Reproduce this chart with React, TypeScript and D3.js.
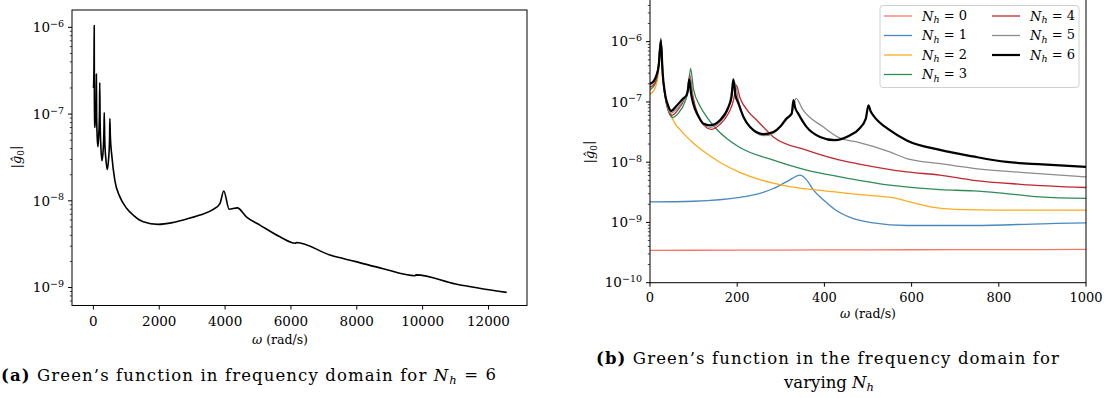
import * as d3 from "d3"

type Pt = [number, number]

// (a) N_h = 6 over the whole range
const fullNh6: Pt[] = [
  [0, 2.0e-7], [8, 2.2e-7], [18, 4e-7], [25, 1.05e-6], [30, 1.5e-7], [38, 8e-8], [45, 7e-8],
  [60, 9e-8], [80, 1.4e-7], [90, 2.9e-7], [100, 9e-8], [120, 5e-8], [140, 4.2e-8], [165, 6e-8],
  [185, 1.1e-7], [193, 2.3e-7], [205, 8e-8], [230, 4e-8], [260, 2.9e-8], [300, 4e-8], [322, 7e-8],
  [330, 1.04e-7], [345, 5e-8], [380, 3e-8], [420, 2.3e-8], [460, 3e-8], [490, 5e-8], [500, 8.9e-8],
  [515, 5.5e-8], [560, 3.3e-8], [650, 1.73e-8], [805, 1.11e-8], [1008, 8.2e-9], [1209, 6.84e-9],
  [1513, 5.73e-9], [1968, 5.35e-9], [2400, 5.6e-9], [2728, 6.0e-9], [3235, 6.84e-9], [3640, 7.96e-9],
  [3843, 9.3e-9], [3960, 1.3e-8], [4125, 8.0e-9], [4370, 8.3e-9], [4654, 6.5e-9], [5058, 5.25e-9],
  [5665, 3.85e-9], [6130, 3.24e-9], [6165, 3.31e-9], [7184, 2.37e-9], [7974, 1.99e-9], [8800, 1.65e-9],
  [9770, 1.37e-9], [9800, 1.4e-9], [11000, 1.1e-9], [12552, 8.8e-10],
]

// (b) varying N_h, 0..1000 rad/s
const nh0: Pt[] = [[0, 3.45e-10], [200, 3.47e-10], [400, 3.5e-10], [600, 3.52e-10], [800, 3.54e-10], [1000, 3.56e-10]]
const nh1: Pt[] = [
  [0, 2.19e-9], [100, 2.25e-9], [206, 2.6e-9], [250, 3.0e-9], [283, 3.66e-9], [315, 4.8e-9], [344, 6.08e-9],
  [360, 5.0e-9], [375, 3.43e-9], [400, 2.3e-9], [424, 1.64e-9], [459, 1.21e-9], [512, 9.85e-10],
  [589, 8.9e-10], [742, 8.9e-10], [900, 9.5e-10], [1000, 9.85e-10],
]
const nh2: Pt[] = [
  [0, 1.35e-7], [10, 1.6e-7], [18, 2.6e-7], [23, 6e-7], [25, 9e-7], [28, 3e-7], [35, 1.3e-7], [45, 7.5e-8],
  [53, 5e-8], [70, 3.4e-8], [92, 2.32e-8], [130, 1.39e-8], [160, 1e-8], [206, 6.8e-9], [250, 5.2e-9],
  [300, 4.2e-9], [344, 3.7e-9], [400, 3.35e-9], [459, 3.0e-9], [520, 2.75e-9], [560, 2.55e-9],
  [600, 2.15e-9], [650, 1.78e-9], [700, 1.65e-9], [800, 1.6e-9], [1000, 1.6e-9],
]
const nh3: Pt[] = [
  [0, 1.6e-7], [10, 1.9e-7], [18, 3e-7], [25, 1.15e-6], [30, 2.5e-7], [40, 8e-8], [52, 5.5e-8], [65, 6.5e-8],
  [80, 1e-7], [88, 1.6e-7], [93, 3.6e-7], [100, 1.6e-7], [115, 8.5e-8], [130, 5.65e-8], [150, 3.7e-8],
  [176, 2.47e-8], [206, 1.75e-8], [283, 1.08e-8], [359, 7.4e-9], [436, 5.7e-9], [550, 4.15e-9],
  [665, 3.5e-9], [742, 3.34e-9], [800, 3.1e-9], [894, 2.65e-9], [1000, 2.5e-9],
]
const nh4: Pt[] = [
  [0, 1.75e-7], [10, 2e-7], [18, 3.2e-7], [25, 1.1e-6], [30, 2.5e-7], [40, 8e-8], [50, 6e-8], [65, 7.5e-8],
  [80, 1.15e-7], [86, 1.5e-7], [91, 2.8e-7], [98, 1.3e-7], [110, 6e-8], [125, 4e-8], [140, 3.5e-8],
  [160, 4.2e-8], [180, 6.5e-8], [192, 1.1e-7], [198, 1.9e-7], [206, 1.2e-7], [225, 7e-8], [245, 4.98e-8],
  [283, 2.63e-8], [359, 1.58e-8], [436, 1.08e-8], [474, 9.5e-9], [589, 6.9e-9], [665, 6.1e-9],
  [742, 5e-9], [850, 4.3e-9], [1000, 3.8e-9],
]
const nh5: Pt[] = [
  [0, 1.9e-7], [10, 2.2e-7], [18, 3.5e-7], [25, 1.0e-6], [30, 2.4e-7], [40, 8.5e-8], [48, 6.5e-8], [60, 7.5e-8],
  [76, 1.05e-7], [85, 1.3e-7], [91, 2.6e-7], [99, 1e-7], [120, 4.5e-8], [138, 3.8e-8], [160, 4.6e-8],
  [180, 8e-8], [193, 2.2e-7], [205, 9e-8], [230, 3.8e-8], [262, 2.75e-8], [285, 3.1e-8], [315, 5.3e-8],
  [327, 7e-8], [335, 1.15e-7], [350, 7.5e-8], [397, 3.86e-8], [436, 2.5e-8], [474, 2.17e-8], [550, 1.48e-8],
  [589, 1.15e-8], [665, 9.5e-9], [742, 7.9e-9], [850, 6.8e-9], [1000, 5.7e-9],
]
const nh6: Pt[] = [
  [0, 2.02e-7], [8, 2.2e-7], [15, 2.8e-7], [20, 4e-7], [25, 1.03e-6], [29, 3e-7], [35, 1.3e-7], [42, 8.5e-8],
  [48, 7.1e-8], [60, 8.5e-8], [76, 1.14e-7], [84, 1.3e-7], [87, 1.6e-7], [90, 2.36e-7], [94, 1.4e-7],
  [99, 9.4e-8], [110, 6e-8], [122, 4.4e-8], [138, 4.1e-8], [161, 5e-8], [180, 8.3e-8], [187, 1.2e-7],
  [191, 2.36e-7], [196, 1.3e-7], [203, 9.4e-8], [215, 5.5e-8], [229, 3.86e-8], [260, 2.92e-8],
  [283, 3.18e-8], [300, 4e-8], [313, 5.3e-8], [325, 6.4e-8], [329, 1.07e-7], [333, 8e-8], [340, 6.4e-8],
  [359, 3.86e-8], [390, 2.63e-8], [424, 2.32e-8], [459, 2.8e-8], [480, 3.6e-8], [495, 5.3e-8],
  [501, 8.8e-8], [506, 7e-8], [512, 6e-8], [550, 3.4e-8], [589, 2.3e-8], [665, 1.6e-8], [740, 1.25e-8],
  [818, 1.01e-8], [900, 9.2e-9], [1000, 8.35e-9],
]

const seriesB = [
  { n: 0, data: nh0, color: "#f7766a", width: 1.3 },
  { n: 1, data: nh1, color: "#4a88bf", width: 1.3 },
  { n: 2, data: nh2, color: "#fdab1e", width: 1.3 },
  { n: 3, data: nh3, color: "#2e8b57", width: 1.3 },
  { n: 4, data: nh4, color: "#c1272d", width: 1.3 },
  { n: 5, data: nh5, color: "#8c8c8c", width: 1.3 },
  { n: 6, data: nh6, color: "#000000", width: 2.2 },
]

const xTicksA = [0, 2000, 4000, 6000, 8000, 10000, 12000]
const xTicksB = [0, 200, 400, 600, 800, 1000]
const decadesA = [-9, -8, -7, -6]
const decadesB = [-10, -9, -8, -7, -6]

const FONT = "'DejaVu Serif', 'Liberation Serif', serif"

function minorTicks(domain: number[]) {
  const out: number[] = []
  for (let e = -11; e <= -5; e++)
    for (let m = 2; m <= 9; m++) {
      const v = m * 10 ** e
      if (v > domain[0] && v < domain[1]) out.push(v)
    }
  return out
}

function Pow({ x, y, e }: { x: number; y: number; e: number }) {
  return (
    <text x={x} y={y} dy="0.35em" textAnchor="end" fontSize={13.5} fontFamily={FONT}>
      10<tspan dy="-0.55em" fontSize={9.5}>{"\u2212" + Math.abs(e)}</tspan>
    </text>
  )
}

function YLabel({ x, y }: { x: number; y: number }) {
  return (
    <text transform={`translate(${x},${y}) rotate(-90)`} textAnchor="middle" fontSize={13} fontFamily={FONT}>
      |<tspan fontStyle="italic">{"g\u0302"}</tspan>
      <tspan fontSize={9} dy="0.3em">0</tspan>
      <tspan dy="-0.3em">|</tspan>
    </text>
  )
}

function XLabel({ x, y }: { x: number; y: number }) {
  return (
    <text x={x} y={y} textAnchor="middle" fontSize={12.5} fontFamily={FONT}>
      <tspan fontStyle="italic">ω</tspan> (rad/s)
    </text>
  )
}

function PanelA() {
  const x = d3.scaleLinear().domain([-650, 13170]).range([72, 527])
  const y = d3.scaleLog().domain([10 ** -9.207, 10 ** -5.8]).range([305.5, 10])
  const line = d3.line<Pt>().x(d => x(d[0])).y(d => y(d[1])).curve(d3.curveMonotoneX)
  const [x0, x1] = x.range()
  const [y0, y1] = y.range()
  return (
    <g>
      <path d={line(fullNh6) ?? ""} fill="none" stroke="#000" strokeWidth={1.6} strokeLinejoin="round" />
      <rect x={x0} y={y1} width={x1 - x0} height={y0 - y1} fill="none" stroke="#000" strokeWidth={1} />
      {xTicksA.map(t => (
        <g key={t}>
          <line x1={x(t)} x2={x(t)} y1={y0} y2={y0 + 4} stroke="#000" />
          <text x={x(t)} y={y0 + 20.5} textAnchor="middle" fontSize={13.5} fontFamily={FONT}>{t}</text>
        </g>
      ))}
      {decadesA.map(e => (
        <g key={e}>
          <line x1={x0 - 4} x2={x0} y1={y(10 ** e)} y2={y(10 ** e)} stroke="#000" />
          <Pow x={x0 - 8} y={y(10 ** e)} e={e} />
        </g>
      ))}
      {minorTicks(y.domain()).map(v => (
        <line key={v} x1={x0 - 2.2} x2={x0} y1={y(v)} y2={y(v)} stroke="#000" strokeWidth={0.7} />
      ))}
      <XLabel x={280} y={344} />
      <YLabel x={21} y={157} />
    </g>
  )
}

function PanelB() {
  const x = d3.scaleLinear().domain([0, 1000]).range([650, 1086])
  const y = d3.scaleLog().domain([1e-10, 10 ** -5.275]).range([282.7, -2])
  const line = d3.line<Pt>().x(d => x(d[0])).y(d => y(d[1])).curve(d3.curveMonotoneX)
  const [x0, x1] = x.range()
  const [y0, y1] = y.range()
  const lx = [884, 992]
  const ly = [16, 35.5, 55, 74.5]
  return (
    <g>
      <defs>
        <clipPath id="clipB">
          <rect x={x0} y={y1} width={x1 - x0} height={y0 - y1} />
        </clipPath>
      </defs>
      <g clipPath="url(#clipB)">
        {seriesB.map(s => (
          <path key={s.n} d={line(s.data) ?? ""} fill="none" stroke={s.color} strokeWidth={s.width} strokeLinejoin="round" />
        ))}
      </g>
      <rect x={x0} y={y1} width={x1 - x0} height={y0 - y1} fill="none" stroke="#000" strokeWidth={1} />
      {xTicksB.map(t => (
        <g key={t}>
          <line x1={x(t)} x2={x(t)} y1={y0} y2={y0 + 4} stroke="#000" />
          <text x={x(t)} y={y0 + 19.5} textAnchor="middle" fontSize={13} fontFamily={FONT}>{t}</text>
        </g>
      ))}
      {decadesB.map(e => (
        <g key={e}>
          <line x1={x0 - 4} x2={x0} y1={y(10 ** e)} y2={y(10 ** e)} stroke="#000" />
          <Pow x={x0 - 8} y={y(10 ** e)} e={e} />
        </g>
      ))}
      {minorTicks(y.domain()).map(v => (
        <line key={v} x1={x0 - 2.2} x2={x0} y1={y(v)} y2={y(v)} stroke="#000" strokeWidth={0.7} />
      ))}
      <XLabel x={868} y={318} />
      <YLabel x={594} y={152} />

      <rect x={880} y={5.5} width={199} height={82} rx={3} fill="#fff" fillOpacity={0.85} stroke="#d0d0d0" strokeWidth={1} />
      {seriesB.map((s, i) => {
        const col = i < 4 ? 0 : 1
        const row = i < 4 ? i : i - 4
        const yy = ly[row]
        return (
          <g key={s.n}>
            <line x1={lx[col]} x2={lx[col] + 28} y1={yy} y2={yy} stroke={s.color} strokeWidth={s.width} />
            <text x={lx[col] + 38} y={yy} dy="0.35em" fontSize={13} fontFamily={FONT}>
              <tspan fontStyle="italic">N</tspan>
              <tspan fontStyle="italic" fontSize={9.5} dy="0.3em">h</tspan>
              <tspan dy="-0.3em">{" = " + s.n}</tspan>
            </text>
          </g>
        )
      })}
    </g>
  )
}

export default function App() {
  return (
    <svg width={1106} height={398} style={{ position: "absolute", left: 0, top: 0, background: "#fff" }}>
      <PanelA />
      <PanelB />
      <text x={1} y={381} fontSize={16.5} fontFamily={FONT} textLength={495} lengthAdjust="spacing">
        <tspan fontWeight="bold">(a)</tspan> Green’s function in frequency domain for <tspan fontStyle="italic">N</tspan>
        <tspan fontStyle="italic" fontSize={11.5} dy="0.25em">h</tspan>
        <tspan dy="-0.25em"> = 6</tspan>
      </text>
      <text x={596} y={364} fontSize={16.5} fontFamily={FONT} textLength={463} lengthAdjust="spacing">
        <tspan fontWeight="bold">(b)</tspan> Green’s function in the frequency domain for
      </text>
      <text x={829} y={388} fontSize={16.5} fontFamily={FONT} textAnchor="middle">
        varying <tspan fontStyle="italic">N</tspan>
        <tspan fontStyle="italic" fontSize={11.5} dy="0.25em">h</tspan>
      </text>
    </svg>
  )
}
